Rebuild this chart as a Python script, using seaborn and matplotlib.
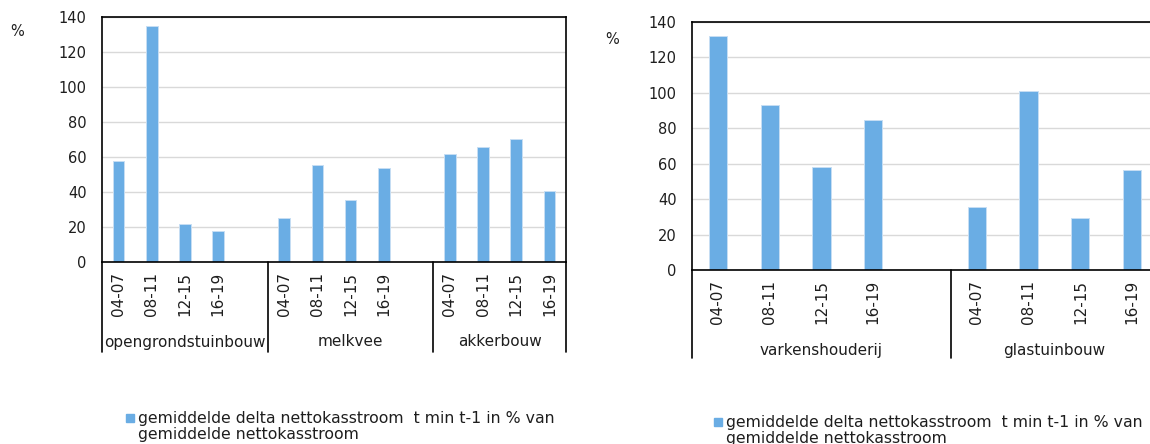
import matplotlib
matplotlib.use("Agg")
import matplotlib.pyplot as plt
import matplotlib.transforms as mtransforms
from matplotlib.patches import Rectangle
from matplotlib.lines import Line2D
import seaborn as sns
import pandas as pd

# ---- data -------------------------------------------------------------
periods = ["04-07", "08-11", "12-15", "16-19"]

left_groups = ["opengrondstuinbouw", "melkvee", "akkerbouw"]
opengrondstuinbouw = [58, 135, 21.5, 17.5]
melkvee = [25, 55.5, 35.5, 53.5]
akkerbouw = [61.5, 66, 70.5, 40.5]

right_groups = ["varkenshouderij", "glastuinbouw"]
varkenshouderij = [132, 93, 58, 84.5]
glastuinbouw = [35.5, 101, 29.5, 56.5]

series_label = ("gemiddelde delta nettokasstroom  t min t-1 in % van\n"
                "gemiddelde nettokasstroom")
y_ticks = [0, 20, 40, 60, 80, 100, 120, 140]
unit_label = "%"

# ---- style ------------------------------------------------------------
sns.set_style("white")
plt.rcParams["font.family"] = ["DejaVu Sans"]
BAR = "#6aade4"
GRID = "#d9d9d9"
TXT = "#1e1e1e"

W, H, DPI = 11.5, 4.44, 100
fig = plt.figure(figsize=(W, H), dpi=DPI)
FW, FH = W * DPI, H * DPI


def px_axes(x0, y0, x1, y1):
    """Axes from pixel box (left, top, right, bottom)."""
    return fig.add_axes([x0 / FW, 1 - y1 / FH, (x1 - x0) / FW, (y1 - y0) / FH])


def build(groups, values):
    rows, order, labels, bounds = [], [], [], [-0.5]
    for gi, (g, vals) in enumerate(zip(groups, values)):
        for p, v in zip(periods, vals):
            key = f"{g}|{p}"
            rows.append({"slot": key, "value": v})
            order.append(key)
            labels.append(p)
        if gi < len(groups) - 1:
            order.append(f"{g}|")
            labels.append("")
        bounds.append(len(order) - 0.5)
    return pd.DataFrame(rows), order, labels, bounds


def draw(ax, groups, values, label_drop, divider_drop):
    df, order, labels, bounds = build(groups, values)
    sns.barplot(data=df, x="slot", y="value", order=order, color=BAR,
                width=0.35, saturation=1, edgecolor="#c6def4", linewidth=0.7,
                ax=ax)
    ax.set_xlim(-0.5, len(order) - 0.5)
    ax.set_ylim(0, 140)
    ax.set_yticks(y_ticks)
    ax.set_xlabel("")
    ax.set_ylabel("")
    ax.set_xticks(range(len(order)))
    ax.set_xticklabels(labels, rotation=90, fontsize=11, color=TXT)
    ax.tick_params(axis="x", length=0, pad=7)
    ax.tick_params(axis="y", length=0, pad=11, labelsize=10.5, labelcolor=TXT)
    ax.grid(axis="y", color=GRID, linewidth=1)
    ax.set_axisbelow(True)
    for s in ax.spines.values():
        s.set_visible(True)
        s.set_color("black")
        s.set_linewidth(1.2)

    blend = mtransforms.blended_transform_factory(ax.transData, ax.transAxes)
    ax_h = ax.get_position().height * FH
    # vertical separators between category groups
    for b in bounds:
        ax.add_line(Line2D([b, b], [0, -divider_drop / ax_h], transform=blend,
                           color="black", linewidth=1.2, clip_on=False))
    # group names under the period labels
    lab_tr = mtransforms.offset_copy(blend, fig=fig, y=-label_drop, units="dots")
    for g, lo, hi in zip(groups, bounds[:-1], bounds[1:]):
        ax.text((lo + hi) / 2, 0, g, transform=lab_tr, ha="center",
                va="center", fontsize=11, color=TXT)


def legend(x, y):
    fig.patches.append(Rectangle((x / FW, 1 - (y + 4) / FH), 8 / FW, 8 / FH,
                                 transform=fig.transFigure, color=BAR))
    fig.text((x + 12) / FW, 1 - (y - 7) / FH, series_label, ha="left",
             va="top", fontsize=11.3, color=TXT, linespacing=1.08)


ax1 = px_axes(102, 17, 566, 262)
draw(ax1, left_groups, [opengrondstuinbouw, melkvee, akkerbouw], 80, 90)
fig.text(17 / FW, 1 - 32 / FH, unit_label, ha="center", va="center",
         fontsize=10.5, color=TXT)
legend(126, 418)

ax2 = px_axes(692, 22, 1158, 270)
draw(ax2, right_groups, [varkenshouderij, glastuinbouw], 80, 88)
fig.text(612 / FW, 1 - 40 / FH, unit_label, ha="center", va="center",
         fontsize=10.5, color=TXT)
legend(714, 422)

fig.savefig("out.png", dpi=DPI)
